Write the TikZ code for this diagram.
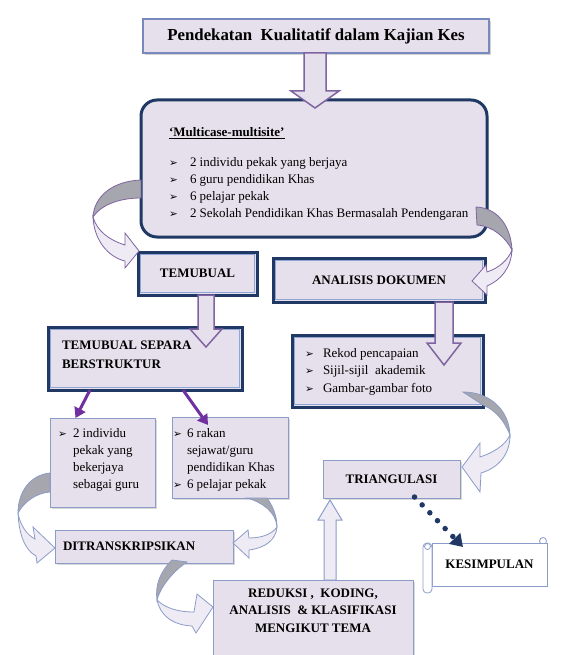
\documentclass[tikz,border=0pt]{standalone}
\usepackage{fontspec}
\setmainfont{Liberation Serif}
\newfontfamily\bulfont{DejaVu Sans}
\usetikzlibrary{calc,arrows.meta,shadows}
\definecolor{lav}{HTML}{E6E0EC}
\definecolor{lavl}{HTML}{EEEBF4}
\definecolor{navy}{HTML}{1F3864}
\definecolor{thinb}{HTML}{8C9CC8}
\definecolor{titleb}{HTML}{7A88C0}
\definecolor{purp}{HTML}{8064A2}
\definecolor{vio}{HTML}{7030A0}
\definecolor{greyb}{HTML}{A6A6AE}
\definecolor{innerb}{HTML}{8FA5D6}
\newcommand\bul[1]{\makebox[#1][l]{\bulfont\fontsize{10.5}{10}\selectfont ➢}}
\newcommand\blockarr[6]{%
  \draw[#1] let \p1=(#2), \p2=(#3) in
    ({\x1-#4},\y1) -- ({\x1-#4},{\y2+#6}) -- ({\x1-#5},{\y2+#6}) -- (\x1,\y2)
    -- ({\x1+#5},{\y2+#6}) -- ({\x1+#4},{\y2+#6}) -- ({\x1+#4},\y1) -- cycle;}
\newcommand\innerline[1]{%
  \draw[innerb, line width=1.1pt] ([shift={(2.1,2.1)}]#1.north west) rectangle ([shift={(-2.1,-2.1)}]#1.south east);}
\begin{document}
\begin{tikzpicture}[x=1pt,y=-1pt,
  bx/.style={inner sep=0pt, outer sep=0pt},
  thickbox/.style={bx, draw=navy, fill=lav, line width=3pt},
  thinbox/.style={bx, draw=thinb, fill=lav, line width=0.9pt,
     drop shadow={shadow xshift=1.5pt, shadow yshift=-1.5pt, opacity=0.3}},
  hfont/.style={font=\bfseries\fontsize{13}{19}\selectfont},
  rfont/.style={font=\fontsize{13}{17}\selectfont},
  txt/.style={inner sep=0pt, outer sep=0pt},
  blk/.style={draw=purp, fill=lav, line width=1.5pt, line join=miter},
  blkb/.style={draw=thinb, fill=lavl, line width=1pt, line join=miter},
  cgreyP/.style={draw=purp, fill=greyb, line width=0.8pt},
  clavP/.style={draw=purp, fill=lavl, line width=0.8pt, line join=miter},
  cgreyB/.style={draw=thinb, fill=greyb, line width=0.8pt},
  clavB/.style={draw=thinb, fill=lavl, line width=0.8pt, line join=miter},
  thinarrow/.style={vio, line width=3pt, -{Triangle[width=12pt,length=10pt]}},
  dotarrow/.style={navy, line width=5.5pt, line cap=round, dash pattern=on 0pt off 11pt,
     -{Triangle[width=15pt,length=12pt]}}]
\useasboundingbox (0,0) rectangle (561,655);

% ---------- boxes ----------
\node[bx, draw=titleb, fill=lav, line width=1.2pt, minimum width=346pt, minimum height=34pt,
  drop shadow={shadow xshift=2pt, shadow yshift=-2pt, opacity=0.35},
  font=\bfseries\fontsize{16.8}{18}\selectfont] (title) at (316,36) {Pendekatan~ Kualitatif dalam Kajian Kes};

\node[thickbox, rounded corners=16pt, minimum width=346pt, minimum height=137pt] (main) at (314,168.5) {};
\node[txt, anchor=base west, font=\bfseries\fontsize{13}{15}\selectfont] (mainH) at (169,137) {\underline{‘Multicase-multisite’}};
\node[txt, anchor=base west, rfont] (mainL) at (169,167) {\begin{tabular}[t]{@{}l@{}}
  \bul{21pt}2 individu pekak yang berjaya\\
  \bul{21pt}6 guru pendidikan Khas\\
  \bul{21pt}6 pelajar pekak\\
  \bul{21pt}2 Sekolah Pendidikan Khas Bermasalah Pendengaran\end{tabular}};

\node[thickbox, minimum width=119pt, minimum height=43pt, hfont] (temubual) at (197.5,273.5) {TEMUBUAL};
\innerline{temubual}
\node[thickbox, minimum width=212pt, minimum height=44pt, hfont] (analisis) at (379,280) {ANALISIS DOKUMEN};
\innerline{analisis}

\node[thickbox, minimum width=194pt, minimum height=63pt] (separa) at (145,358.5) {};
\innerline{separa}
\node[txt, anchor=base west, hfont] (separaT) at (62,349) {\begin{tabular}[t]{@{}l@{}}TEMUBUAL SEPARA\\ BERSTRUKTUR\end{tabular}};

\node[thickbox, minimum width=191pt, minimum height=72pt] (rekod) at (387.5,371) {};
\innerline{rekod}
\node[txt, anchor=base west, font=\fontsize{13}{17.5}\selectfont] (rekodT) at (305,357) {\begin{tabular}[t]{@{}l@{}}
  \bul{18pt}Rekod pencapaian\\
  \bul{18pt}Sijil-sijil~ akademik\\
  \bul{18pt}Gambar-gambar foto\end{tabular}};

\node[thinbox, minimum width=105pt, minimum height=89pt] (ind) at (102.5,462.5) {};
\node[txt, anchor=base west, rfont] (indT) at (58,437) {\begin{tabular}[t]{@{}l@{}l@{}}
  \bul{15pt}&2 individu\\ &pekak yang\\ &bekerjaya\\ &sebagai guru\end{tabular}};

\node[thinbox, minimum width=116pt, minimum height=81pt] (rakan) at (230,457.5) {};
\node[txt, anchor=base west, rfont] (rakanT) at (173,437) {\begin{tabular}[t]{@{}l@{}l@{}}
  \bul{14pt}&6 rakan\\ &sejawat/guru\\ &pendidikan Khas\\ \bul{14pt}&6 pelajar pekak\end{tabular}};

\node[thinbox, minimum width=178pt, minimum height=33pt] (ditrans) at (144,546.5) {};
\node[txt, anchor=west, hfont] (ditransT) at (63,546) {DITRANSKRIPSIKAN};

\node[thinbox, minimum width=137pt, minimum height=38pt, hfont] (triang) at (391.5,479) {TRIANGULASI};

\node[thinbox, minimum width=200pt, minimum height=80pt] (reduksi) at (313,620) {};
\node[txt, anchor=base, font=\bfseries\fontsize{13}{17.5}\selectfont] (reduksiT) at (313,597) {\begin{tabular}[t]{@{}c@{}}
  REDUKSI ,~ KODING,\\ ANALISIS~ \& KLASIFIKASI\\ MENGIKUT TEMA\end{tabular}};

% scroll
\draw[thinb, fill=white, line width=0.8pt] (543,541) circle (3.5pt);
\node[bx, draw=thinb, fill=white, line width=0.8pt, minimum width=115pt, minimum height=43pt, hfont] (kes) at (489.5,564.5) {KESIMPULAN};
\draw[thinb, fill=white, line width=0.8pt, rounded corners=4pt] ($(kes.north west)+(-9,0)$) rectangle ($(kes.south west)+(0,7)$);
\draw[thinb, fill=white, line width=0.8pt] ($(kes.north west)+(-4.5,3.5)$) circle (3pt);

% ---------- block arrows ----------
\blockarr{blk}{$(title.south)+(-1,0)$}{$(main.north)+(0,8)$}{11}{24}{17}
\blockarr{blk}{$(temubual.south)+(8.5,0)$}{$(separa.north)+(0,20)$}{8}{16}{18}
\blockarr{blk}{$(analisis.south)+(65,0)$}{$(rekod.north)+(0,30)$}{9}{17}{22}
\blockarr{blkb}{$(reduksi.north)+(17,0)$}{$(triang.south)+(0,2)$}{6}{12}{-20}

% ---------- thin arrows ----------
\draw[thinarrow] ($(separa.south)+(-55,0)$) -- ($(ind.north)+(-27,0)$);
\draw[thinarrow] ($(separa.south)+(38,0)$) -- ($(rakan.north)+(-22,8)$);
\draw[dotarrow] ($(triang.south)+(23,-1)$) -- ($(kes.north)+(-26.5,4)$);

% ---------- curved arrows ----------
% main -> temubual
\draw[cgreyP] (141,180) .. controls (112,181) and (94,197) .. (93,217) .. controls (101,205) and (119,198) .. (141,198) -- cycle;
\draw[clavP] (93,217) .. controls (94,240) and (108,257) .. (125,261) -- (125,268) -- (139,251) -- (125,233) -- (125,245) .. controls (109,240) and (97,231) .. (93,217) -- cycle;
% main -> analisis
\draw[cgreyP] (476,207) .. controls (499,208) and (511,228) .. (512,250) .. controls (506,238) and (493,226) .. (477,225) -- cycle;
\draw[clavP] (512,250) .. controls (511,268) and (501,280) .. (487,286) -- (487,295) -- (472,281) -- (486,265) -- (487,272) .. controls (499,268) and (508,260) .. (512,250) -- cycle;
% rekod -> triang
\draw[cgreyB] (463,392) .. controls (490,392) and (509,410) .. (510,435) .. controls (504,420) and (495,410) .. (483,405) -- cycle;
\draw[clavB] (510,435) .. controls (510,455) and (498,468) .. (481,473) -- (480,492) -- (462,467) -- (480,443) -- (480,457) .. controls (492,453) and (505,446) .. (510,435) -- cycle;
% ind -> ditrans
\draw[cgreyB] (50,473) .. controls (30,475) and (18,492) .. (18,513) .. controls (24,502) and (36,493) .. (50,492) -- cycle;
\draw[clavB] (18,513) .. controls (19,535) and (25,550) .. (36,556) -- (37,563) -- (55,548) -- (33,527) -- (35,539) .. controls (27,535) and (20,525) .. (18,513) -- cycle;
% rakan -> ditrans
\draw[cgreyB] (247,498) .. controls (262,502) and (276,512) .. (277,527) .. controls (277,515) and (272,505) .. (267,498) -- cycle;
\draw[clavB] (277,527) .. controls (276,540) and (265,548) .. (249,550) -- (249,558) -- (233,543) -- (248,530) -- (249,538) .. controls (262,538) and (272,534) .. (277,527) -- cycle;
% ditrans -> reduksi
\draw[cgreyB] (172,560) .. controls (160,572) and (155,585) .. (157,600) .. controls (160,588) and (172,572) .. (187,562) -- cycle;
\draw[clavB] (157,600) .. controls (160,615) and (172,625) .. (192,626) -- (196,633) -- (213,607) -- (197,594) -- (194,612) .. controls (178,612) and (165,608) .. (157,600) -- cycle;
\end{tikzpicture}
\end{document}
